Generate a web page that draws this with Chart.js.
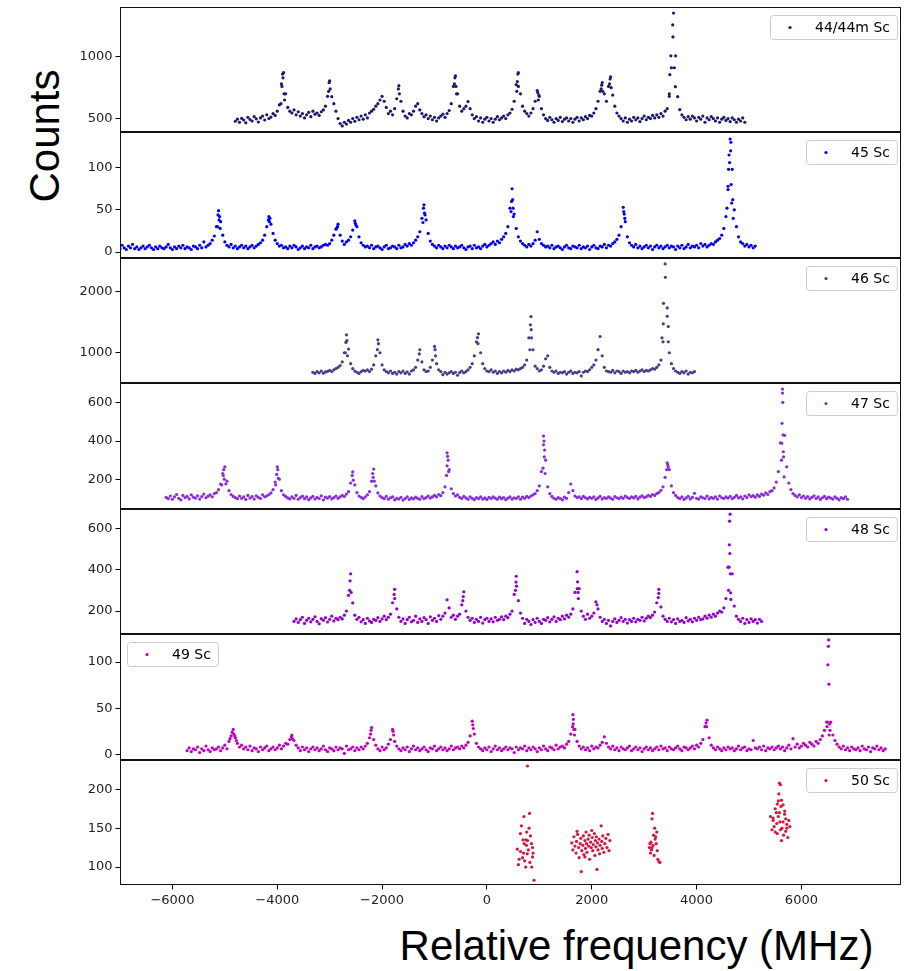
<!DOCTYPE html>
<html><head><meta charset="utf-8">
<script src="https://cdn.jsdelivr.net/npm/chart.js@4.4.1/dist/chart.umd.min.js"></script>
<style>
html,body{margin:0;padding:0;background:#fff;}
body{width:904px;height:971px;position:relative;overflow:hidden;}
.pnl{position:absolute;left:0;}
#ylab{position:absolute;left:44.5px;top:136px;transform:translate(-50%,-50%) rotate(-90deg);font:42px "Liberation Sans",Arial,sans-serif;line-height:42px;white-space:nowrap;color:#000;}
#xlab{position:absolute;left:636.5px;top:945.5px;transform:translate(-50%,-50%);font:42px "Liberation Sans",Arial,sans-serif;line-height:42px;white-space:nowrap;color:#000;}
</style></head>
<body>
<div id="ylab">Counts</div>
<div id="xlab">Relative frequency (MHz)</div>
<script>
// ---------- shared axis data ----------
const xMin = -7000, xMax = 7900;
const xTicks = [-6000, -4000, -2000, 0, 2000, 4000, 6000];
const scanStep = 40; // MHz between scan points

// ---------- 44/44m Sc ----------
const x44Start = -4800;
const c44 = [478,495,470,502,488,465,510,492,480,515,498,472,505,520,488,530,500,512,540,525,
560,610,780,871,700,590,560,545,570,530,555,520,540,505,530,550,515,560,535,545,
525,555,570,600,680,806,677,620,560,500,460,440,470,455,485,470,500,478,510,490,
520,495,530,505,545,560,575,600,620,650,680,640,590,540,560,530,580,660,766,640,
560,520,505,540,530,560,600,620,570,540,515,530,500,520,490,510,480,505,520,535,
510,540,565,620,760,846,700,600,560,580,600,637,580,530,500,515,480,505,470,495,
510,480,500,470,495,515,490,505,520,500,530,545,575,640,774,871,700,600,560,540,
520,545,580,640,726,680,580,530,500,485,510,490,470,500,485,510,475,495,505,480,
500,470,495,510,480,505,490,515,500,525,520,545,580,640,720,790,700,640,760,838,
690,600,545,520,500,480,505,470,495,480,510,490,505,475,500,520,490,510,500,525,
505,530,510,540,520,560,580,680,911,1354,1008,677,572,530,510,490,515,495,520,505,
480,510,495,520,470,505,490,515,500,480,505,470,495,510,485,500,475,505,490,470,
495,480,505,470];
const x44b = [-3900,-3890,-3910,-3870,-3860,-3930,-3010,-3020,-2990,-1690,-1670,-610,-620,-590,-580,590,580,600,570,970,990,980,2190,2180,2210,2350,2340,2370,3545,3550,3510,3575,3490,3595,3480];
const y44b = [860,830,760,700,650,620,790,720,740,740,700,830,780,760,700,860,800,760,720,710,690,650,770,740,720,820,780,750,1258,1161,1008,911,855,758,700];
const yTicks44 = [500, 1000];

// ---------- 45 Sc ----------
const x45Start = -7040;
const c45 = [6,4,8,5,3,7,5,9,4,6,3,5,7,4,6,8,5,3,6,4,
7,5,4,6,9,5,3,6,4,7,5,8,4,6,5,3,7,6,4,8,
5,12,6,8,10,14,19,30,49,36,20,12,8,6,9,5,7,4,6,8,
5,7,4,6,8,5,7,9,11,14,20,30,42,33,22,14,10,7,8,5,
6,4,7,5,8,6,3,5,7,4,6,5,8,4,6,7,5,6,8,9,
8,10,14,20,27,33,20,13,9,12,14,18,26,37,30,18,11,8,6,7,
5,8,4,6,7,5,3,6,8,4,5,7,6,4,8,5,6,9,7,10,
8,11,14,18,24,40,56,38,22,13,9,7,5,8,6,4,7,5,8,6,
4,7,5,6,8,5,3,6,7,4,8,5,6,4,7,9,6,8,10,12,
9,13,11,15,18,22,30,52,75,45,28,18,13,10,8,6,9,7,10,14,
24,15,10,8,6,7,5,8,4,6,7,5,3,6,8,5,4,7,6,5,
8,4,6,5,7,3,6,8,5,4,7,6,9,5,8,7,10,12,15,20,
30,53,36,18,11,8,6,9,5,7,4,6,8,5,7,3,6,8,5,7,
4,6,8,5,7,6,3,7,5,8,4,6,9,5,7,6,8,5,10,7,
9,6,8,10,9,12,14,16,20,28,42,78,134,98,50,30,18,12,10,7,
9,6,8,5,7];
const x45b = [-5130,-5110,-5100,-5140,-5090,-4170,-4150,-4140,-2850,-2870,-2510,-2500,-1210,-1190,-1180,-1220,470,490,500,460,505,2610,2620,2630,4620,4630,4650,4660,4610,4600,4670,4580,4700,4690,4655];
const y45b = [44,38,42,30,28,38,36,40,30,28,34,32,52,46,44,35,60,62,52,48,42,48,45,40,115,106,120,80,98,74,58,52,40,62,130];
const yTicks45 = [0, 50, 100];

// ---------- 46 Sc ----------
const x46Start = -3320;
const c46 = [680,660,690,670,700,665,685,695,710,690,720,740,760,790,850,1000,1295,1060,820,740,
700,680,660,690,710,700,720,690,730,800,950,1213,1000,800,720,690,670,700,660,680,
650,690,670,700,660,685,650,700,720,760,880,1049,850,720,690,700,760,880,1104,820,
720,690,640,680,650,670,690,660,680,630,675,700,670,690,720,760,820,950,1180,1311,
1000,820,740,700,690,720,680,700,660,690,670,700,680,710,690,720,700,730,720,740,
760,800,880,1246,1595,1049,780,740,700,720,780,900,950,760,700,680,700,660,680,670,
690,650,680,700,660,680,670,690,620,680,700,690,720,760,800,880,1050,1267,950,760,
700,690,680,710,670,700,690,660,700,680,690,670,700,690,710,680,700,720,690,710,
700,720,740,730,760,800,880,1180,2460,1737,1000,820,740,700,680,660,690,670,700,650,680,670,690];
const x46b = [-2690,-2670,-2700,-2660,-2070,-2090,-1290,-990,-980,-180,-170,830,850,820,845,3405,3370,3440,3365,3460,3340,3460];
const y46b = [1170,1200,1000,950,1150,1050,980,1050,950,1250,1150,1459,1246,1049,1380,2240,1813,1600,1475,1431,1246,1180];
const yTicks46 = [1000, 2000];

// ---------- 47 Sc ----------
const x47Start = -6120;
const c47 = [105,98,112,95,108,120,100,92,115,104,110,97,118,106,101,113,96,109,122,103,
111,118,108,125,130,145,175,230,265,190,140,120,110,104,98,112,100,107,94,115,
101,109,96,113,105,99,118,108,112,120,128,145,185,265,200,140,118,110,102,97,
108,100,115,95,104,111,98,107,93,102,110,96,105,99,113,92,106,101,109,97,
104,112,100,108,115,110,122,135,180,238,170,130,112,105,98,108,118,135,190,253,
165,128,112,104,98,110,95,103,107,92,100,96,105,91,99,108,94,102,97,106,
100,95,109,98,104,112,101,107,115,108,120,114,130,160,338,250,150,125,112,118,
105,99,110,102,95,108,100,93,104,98,107,96,102,94,105,99,108,101,95,106,
98,104,93,101,107,96,103,99,108,95,106,100,110,104,112,118,125,140,165,240,
426,300,160,125,110,100,95,104,99,92,106,100,130,175,140,112,104,108,98,110,
103,97,105,100,108,94,102,110,96,104,99,107,101,95,109,103,98,106,100,112,
104,99,108,102,110,97,106,113,104,108,116,110,120,115,125,130,142,160,210,286,
250,165,130,115,104,98,108,94,102,110,97,105,126,100,96,108,103,99,111,97,
105,100,108,96,112,103,99,107,101,110,98,105,115,102,108,97,112,104,118,109,
114,106,118,110,122,116,128,120,135,140,155,185,240,390,672,430,265,180,145,125,
115,108,118,104,112,100,109,97,105,113,99,107,94,103,110,98,106,101,96,108,100,92,104,98,107,95];
const x47b = [-5020,-5030,-5010,-5060,-4980,-3990,-4010,-3980,-4030,-2570,-2550,-2180,-2170,-2150,-750,-740,-760,-730,-770,1090,1080,1100,1095,1070,1110,3450,3460,3430,5640,5645,5630,5650,5625,5655,5660,5620,5670];
const y47b = [250,220,200,170,175,250,225,205,170,220,195,230,210,190,320,300,270,240,220,400,380,353,317,258,230,275,265,250,651,602,493,432,388,344,317,300,212];
const yTicks47 = [200, 400, 600];

// ---------- 48 Sc ----------
const x48Start = -3680;
const c48 = [150,162,145,158,170,140,155,165,148,160,172,150,138,163,155,168,147,160,175,152,
165,158,170,162,180,200,276,380,239,180,160,170,148,158,140,165,152,145,160,155,
168,150,162,175,158,170,185,240,305,210,170,150,162,140,158,170,148,155,175,145,
162,150,168,158,140,172,155,165,150,178,160,175,190,254,215,170,180,160,175,185,
230,293,200,170,155,165,145,160,150,170,142,158,165,150,162,148,170,155,160,172,
158,175,168,185,200,280,368,250,190,165,140,160,150,135,158,145,165,150,140,160,
155,168,148,160,172,150,165,158,175,162,180,170,185,210,290,390,308,200,175,160,
185,165,175,190,244,210,170,150,160,140,155,128,150,162,145,155,168,150,160,142,
158,150,165,148,160,155,170,152,165,175,168,180,195,240,305,220,175,160,150,165,
148,158,140,162,150,155,145,168,152,160,148,165,155,170,158,162,175,165,180,170,
185,175,190,200,195,215,260,412,668,380,224,175,160,150,165,140,158,145,162,150,
158,142,160,150];
const x48b = [-2610,-2620,-2590,-1770,-1760,-450,-460,555,565,545,1730,1725,1740,1745,2100,3280,3270,4630,4625,4635,4620,4645,4650,4655,4610];
const y48b = [346,300,290,280,260,270,250,340,320,300,341,308,290,260,230,285,265,634,520,478,412,380,288,256,300];
const yTicks48 = [200, 400, 600];

// ---------- 49 Sc ----------
const x49Start = -5720;
const c49 = [4,7,3,6,5,8,2,6,4,9,5,3,7,5,6,8,4,7,10,6,
14,20,27,18,12,8,10,6,8,5,9,4,7,6,3,8,5,7,9,4,
6,8,5,7,10,6,9,12,11,16,21,15,10,7,4,8,5,7,3,6,
8,5,7,4,6,9,5,3,7,6,4,8,5,7,6,1,9,5,6,8,
4,7,5,8,6,9,12,18,29,16,10,6,4,8,5,7,11,16,27,14,
9,6,4,7,5,8,3,6,9,5,7,4,6,8,5,3,7,6,9,4,
6,8,5,7,4,6,9,5,7,8,6,9,7,10,13,20,36,22,12,8,
6,4,7,5,8,3,6,9,5,7,4,6,8,5,7,6,2,8,5,7,
6,9,4,7,5,8,6,3,7,5,9,6,4,8,7,5,10,6,8,9,
7,11,14,22,43,27,14,9,6,8,5,7,4,9,6,8,7,10,13,19,
12,8,6,9,5,7,4,8,6,5,7,9,4,6,8,5,7,3,6,8,
5,7,4,6,8,5,9,6,7,4,8,6,5,7,9,6,4,8,7,5,
7,9,6,10,8,12,16,30,37,18,10,7,5,8,6,4,7,5,8,6,
7,4,6,9,5,7,8,4,6,5,15,7,6,8,5,9,4,7,6,8,
5,7,9,6,8,4,7,10,6,17,8,11,7,9,12,10,8,13,11,9,
14,12,16,20,26,35,124,35,21,15,11,8,6,9,5,7,4,8,6,5,
7,4,9,6,5,8,3,7,6,9,5,7,4,6];
const x49b = [-4860,-4830,-4900,-4810,-4780,-3730,-3710,-2210,-2220,-1790,-1780,-270,-260,1650,1645,1660,1635,1670,4180,4190,6515,6505,6525,6500,6540,6545,6530,6490];
const y49b = [24,22,17,20,15,19,17,26,22,25,21,32,28,38,33,27,30,21,34,30,117,97,76,35,33,26,21,30];
const yTicks49 = [0, 50, 100];

// ---------- 50 Sc ----------
const x50 = [774,813,706,658,803,639,690,745,775,755,850,870,580,700,770,870,720,820,600,740,855,900,640,790,680,830,615,760,880,710,
1620,1640,1660,1680,1700,1710,1730,1750,1760,1780,1790,1800,1810,1830,1840,1850,1870,1880,1890,1900,1910,1930,1940,1950,1960,1980,1990,2000,2010,2020,2030,2050,2060,2070,2080,2090,2100,2110,2120,2140,2150,2160,2180,2190,2200,2210,2230,2250,2270,2290,2310,2330,2345,1720,1870,
3160,3150,3200,3240,3180,3210,3130,3170,3100,3140,3230,3250,3120,3190,3260,3280,3300,3150,3220,3110,
5580,5600,5570,5620,5540,5650,5610,5500,5520,5680,5560,5700,5460,5590,5720,5480,5630,5440,5700,5540,5660,5500,5740,5620,5580,5760,5460,5680,5530,5600,5720,5410,5650,5560,5780];
const y50 = [230,169,165,153,150,143,135,135,134,128,130,125,123,118,117,113,108,106,103,100,100,83,120,122,112,140,110,145,118,130,
131,122,139,127,118,133,142,125,112,130,137,94,121,128,140,116,134,124,145,130,119,136,127,141,110,132,125,147,138,121,129,143,115,134,126,139,97,131,122,136,117,128,153,133,124,140,119,130,137,125,142,121,134,146,113,
169,162,150,145,141,136,132,128,125,122,130,121,118,115,110,107,106,125,139,130,
208,206,194,186,181,180,178,175,170,168,165,162,160,158,155,152,150,148,146,143,141,145,138,134,170,160,163,172,156,148,150,165,158,185,152];
const yTicks50 = [100, 150, 200];

// ---------- build point lists ----------
function scanPoints(start, counts, ex, ey) {
  const pts = counts.map((c, i) => ({x: start + i * scanStep, y: c}));
  ex.forEach((x, i) => pts.push({x: x, y: ey[i]}));
  return pts;
}
function pairPoints(xs, ys) { return xs.map((x, i) => ({x: x, y: ys[i]})); }

const panels = [
  {label:'44/44m Sc', color:'#191970', pts: scanPoints(x44Start, c44, x44b, y44b), yMin:391, yMax:1403, yTicks:yTicks44, top:7, bottom:132, side:'right'},
  {label:'45 Sc', color:'#0000ff', pts: scanPoints(x45Start, c45, x45b, y45b), yMin:-7.1, yMax:142.3, yTicks:yTicks45, top:132, bottom:258, side:'right'},
  {label:'46 Sc', color:'#483d8b', pts: scanPoints(x46Start, c46, x46b, y46b), yMin:503, yMax:2557, yTicks:yTicks46, top:258, bottom:383, side:'right'},
  {label:'47 Sc', color:'#8a2be2', pts: scanPoints(x47Start, c47, x47b, y47b), yMin:44, yMax:704, yTicks:yTicks47, top:383, bottom:509, side:'right'},
  {label:'48 Sc', color:'#9400d3', pts: scanPoints(x48Start, c48, x48b, y48b), yMin:89, yMax:693, yTicks:yTicks48, top:509, bottom:634, side:'right'},
  {label:'49 Sc', color:'#bf00bf', pts: scanPoints(x49Start, c49, x49b, y49b), yMin:-6.1, yMax:130.4, yTicks:yTicks49, top:634, bottom:760, side:'left'},
  {label:'50 Sc', color:'#dc143c', pts: pairPoints(x50, y50), yMin:76.9, yMax:237.7, yTicks:yTicks50, top:760, bottom:885, side:'right'}
];

const tickFont = {family:'"DejaVu Sans", sans-serif', size:13};

const framePlugin = {
  id:'frame',
  afterDatasetsDraw(chart) {
    const {ctx, chartArea:a} = chart;
    ctx.save();
    ctx.strokeStyle = '#111';
    ctx.lineWidth = 1;
    ctx.strokeRect(a.left + 0.5, a.top + 0.5, a.right - a.left - 1, a.bottom - a.top - 1);
    ctx.restore();
  }
};
const legendPlugin = {
  id:'boxLegend',
  afterDraw(chart, args, opts) {
    const {ctx, chartArea:a} = chart;
    const ds = chart.data.datasets[0];
    ctx.save();
    ctx.font = '14px "DejaVu Sans", sans-serif';
    const tw = ctx.measureText(ds.label).width;
    const w = 45 + tw + 7, h = 24;
    const x = Math.round(opts.side === 'left' ? a.left + 7 : a.right - 4 - w);
    const y = a.top + 8;
    ctx.beginPath();
    if (ctx.roundRect) ctx.roundRect(x + 0.5, y + 0.5, w, h, 3); else ctx.rect(x + 0.5, y + 0.5, w, h);
    ctx.fillStyle = 'rgba(255,255,255,0.8)';
    ctx.fill();
    ctx.strokeStyle = '#cccccc';
    ctx.lineWidth = 1;
    ctx.stroke();
    ctx.fillStyle = ds.backgroundColor;
    ctx.beginPath();
    ctx.arc(x + 20, y + h / 2 + 0.5, 1.6, 0, Math.PI * 2);
    ctx.fill();
    ctx.fillStyle = '#000';
    ctx.textBaseline = 'middle';
    ctx.fillText(ds.label, x + 45, y + h / 2 + 1);
    ctx.restore();
  }
};

panels.forEach((p, idx) => {
  const last = idx === panels.length - 1;
  const pad = 10;
  const axisH = last ? 40 : 0;
  const areaH = p.bottom - p.top;
  const cH = pad + areaH + (last ? axisH : pad);
  const div = document.createElement('div');
  div.className = 'pnl';
  div.style.top = (p.top - pad) + 'px';
  div.style.width = '904px';
  div.style.height = cH + 'px';
  const cv = document.createElement('canvas');
  cv.width = 904; cv.height = cH;
  cv.style.width = '904px'; cv.style.height = cH + 'px';
  div.appendChild(cv);
  document.body.appendChild(div);

  new Chart(cv.getContext('2d'), {
    type:'scatter',
    data:{datasets:[{label:p.label, data:p.pts, backgroundColor:p.color, borderColor:p.color,
      borderWidth:0, pointRadius:1.6, pointHoverRadius:1.6, pointBorderWidth:0}]},
    options:{
      animation:false, responsive:false, maintainAspectRatio:false, devicePixelRatio:1,
      events:[],
      layout:{padding:{left:0, right:3, top:pad, bottom: last ? 0 : pad}},
      plugins:{legend:{display:false}, tooltip:{enabled:false}, boxLegend:{side:p.side}},
      scales:{
        x:{type:'linear', min:xMin, max:xMax, display:last,
          afterBuildTicks(s){ s.ticks = xTicks.map(v => ({value:v})); },
          afterFit(s){ s.height = axisH; s.paddingLeft = 0; s.paddingRight = 0; },
          ticks:{autoSkip:false, maxRotation:0, padding:3, color:'#222', font:tickFont,
            callback:(v) => (v < 0 ? '\u2212' + Math.abs(v) : String(v))},
          grid:{display:true, drawOnChartArea:false, drawTicks:true, tickLength:4.5, color:'#000', lineWidth:1},
          border:{display:false}
        },
        y:{type:'linear', min:p.yMin, max:p.yMax, position:'left',
          afterBuildTicks(s){ s.ticks = p.yTicks.map(v => ({value:v})); },
          afterFit(s){ s.width = 120; s.paddingTop = 0; s.paddingBottom = 0; },
          ticks:{autoSkip:false, padding:3, color:'#222', font:tickFont, callback:(v) => String(v)},
          grid:{display:true, drawOnChartArea:false, drawTicks:true, tickLength:4.5, color:'#000', lineWidth:1},
          border:{display:false}
        }
      }
    },
    plugins:[framePlugin, legendPlugin]
  });
});
</script>
</body></html>
